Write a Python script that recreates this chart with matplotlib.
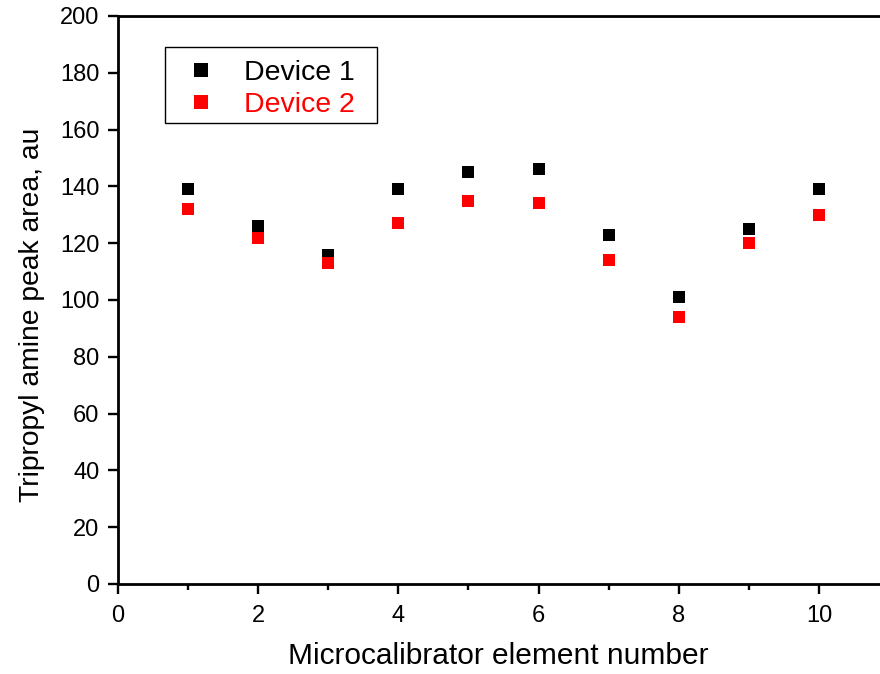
import matplotlib
matplotlib.use("Agg")
import matplotlib.pyplot as plt
from matplotlib.patches import Rectangle

elements = [1, 2, 3, 4, 5, 6, 7, 8, 9, 10]
device1 = [139, 126, 116, 139, 145, 146, 123, 101, 125, 139]
device2 = [132, 122, 113, 127, 135, 134, 114, 94, 120, 130]
xticks = [0, 2, 4, 6, 8, 10]
yticks = [0, 20, 40, 60, 80, 100, 120, 140, 160, 180, 200]

plt.rcParams['font.family'] = ['Liberation Sans', 'DejaVu Sans']

fig = plt.figure(figsize=(8.8, 6.74), dpi=100)
ax = fig.add_axes([118/880, 90/674, 771/880, 568/674])

ax.plot(elements, device1, linestyle='none', marker='s', markersize=9.2,
        markeredgewidth=0, color='black', label='Device 1')
ax.plot(elements, device2, linestyle='none', marker='s', markersize=9.2,
        markeredgewidth=0, color='#ff0000', label='Device 2')

ax.set_xlim(0, 11)
ax.set_ylim(0, 200)
ax.set_xticks(xticks)
ax.set_xticks([1, 3, 5, 7, 9], minor=True)
ax.set_yticks(yticks)

for s in ax.spines.values():
    s.set_linewidth(2.0)

ax.tick_params(axis='both', which='major', direction='out', length=7.5,
               width=1.7, labelsize=17, pad=6)
ax.tick_params(axis='x', which='minor', direction='out', length=4.3, width=1.7)
ax.tick_params(axis='x', which='major', pad=7.5)

ax.set_xlabel('Microcalibrator element number', fontsize=21.5)
ax.set_ylabel('Tripropyl amine peak area, au', fontsize=20.3)
ax.xaxis.set_label_coords(0.493, -0.102)
ax.yaxis.set_label_coords(-0.095, 0.474)

leg = ax.legend(loc='upper left', bbox_to_anchor=(172/880, 1 - 60/674),
                bbox_transform=fig.transFigure, borderaxespad=0,
                fontsize=20.5, frameon=False, borderpad=0, handlelength=2.03,
                handletextpad=0.5, labelspacing=0.2, markerscale=1.1,
                labelcolor='markerfacecolor')

frame = Rectangle((165/880, 1 - 123/674), 212/880, 76/674,
                  transform=fig.transFigure, fill=False, edgecolor='black',
                  linewidth=1.0, zorder=5)
fig.add_artist(frame)

fig.savefig('out.png', dpi=100)
